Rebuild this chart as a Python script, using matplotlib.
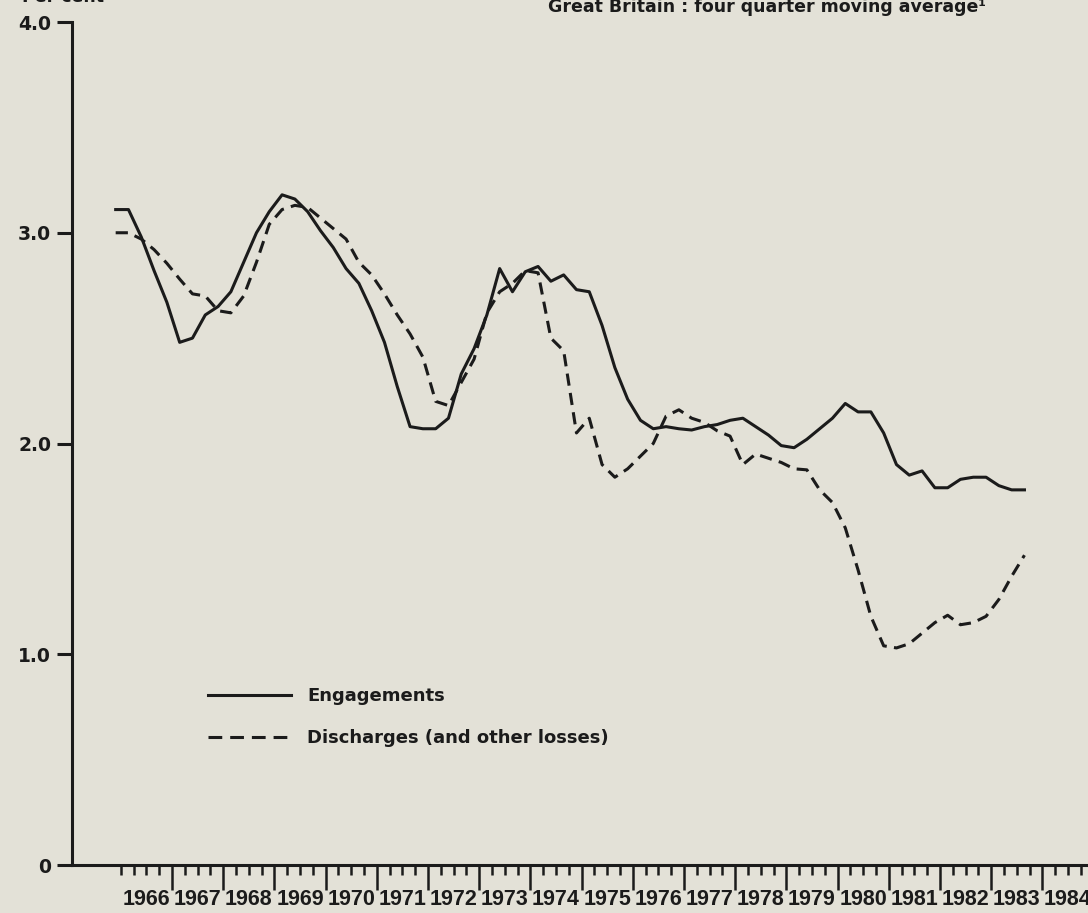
import numpy as np
import matplotlib.pyplot as plt
from matplotlib.lines import Line2D

# Quarterly points, four quarter moving average (per cent)
start_year = 1965.9
engagements = [3.11, 3.11, 2.98, 2.82, 2.67, 2.48, 2.50, 2.61, 2.65, 2.72,
               2.86, 3.00, 3.10, 3.18, 3.16, 3.10, 3.01, 2.93, 2.83, 2.76,
               2.63, 2.48, 2.27, 2.08, 2.07, 2.07, 2.12, 2.33, 2.45, 2.61,
               2.83, 2.72, 2.815, 2.84, 2.77, 2.80, 2.73, 2.72, 2.56, 2.36,
               2.21, 2.11, 2.07, 2.08, 2.07, 2.064, 2.08, 2.09, 2.11, 2.12,
               2.08, 2.04, 1.99, 1.98, 2.02, 2.07, 2.12, 2.19, 2.15, 2.15,
               2.05, 1.90, 1.85, 1.87, 1.79, 1.79, 1.83, 1.84, 1.84, 1.80,
               1.78, 1.78]
discharges = [3.00, 3.00, 2.97, 2.92, 2.855, 2.78, 2.71, 2.70, 2.63, 2.62,
              2.70, 2.86, 3.04, 3.11, 3.13, 3.12, 3.07, 3.02, 2.97, 2.86,
              2.80, 2.71, 2.61, 2.52, 2.41, 2.20, 2.18, 2.29, 2.40, 2.62,
              2.72, 2.76, 2.82, 2.81, 2.50, 2.44, 2.05, 2.12, 1.90, 1.84,
              1.88, 1.94, 2.00, 2.13, 2.16, 2.12, 2.10, 2.06, 2.035, 1.90,
              1.95, 1.93, 1.91, 1.88, 1.875, 1.78, 1.72, 1.60, 1.40, 1.18,
              1.04, 1.03, 1.05, 1.10, 1.15, 1.185, 1.14, 1.15, 1.18, 1.26,
              1.37, 1.47]
years = list(range(1966, 1985))
ytick_vals = [0, 1.0, 2.0, 3.0, 4.0]
ytick_labels = ['0', '1.0', '2.0', '3.0', '4.0']

quarters = start_year + 0.25 * np.arange(len(engagements))

paper = '#e3e1d7'
ink = '#1b1b1b'
bold_font = ['DejaVu Sans']
label_font = ['Liberation Sans', 'DejaVu Sans']

fig = plt.figure(figsize=(10.88, 9.13), dpi=100, facecolor=paper)
ax = fig.add_axes([72 / 1088, 48 / 913, 1016 / 1088, 843 / 913])
ax.set_facecolor(paper)

ax.plot(quarters, engagements, color=ink, lw=2.2, label='Engagements')
ax.plot(quarters, discharges, color=ink, lw=2.2, linestyle=(0, (4, 2.4)),
        label='Discharges (and other losses)')

ax.set_xlim(1965.047, 1984.891)
ax.set_ylim(0, 4.0)

for side in ['top', 'right']:
    ax.spines[side].set_visible(False)
for side in ['left', 'bottom']:
    ax.spines[side].set_linewidth(2.2)
    ax.spines[side].set_color(ink)

ax.set_yticks(ytick_vals)
ax.set_yticklabels(ytick_labels, fontfamily=bold_font, fontweight='bold', fontsize=13.5)
ax.tick_params(axis='y', direction='out', length=11, width=2.2, color=ink, pad=4, labelcolor=ink)

ax.set_xticks(years[1:])
ax.set_xticks(np.arange(1966, 1985, 0.25), minor=True)
ax.tick_params(axis='x', which='major', direction='out', length=18, width=1.8, color=ink, labelbottom=False)
ax.tick_params(axis='x', which='minor', direction='out', length=7, width=1.8, color=ink)

for y in years:
    ax.text(y + 0.5, -0.0415, str(y), transform=ax.get_xaxis_transform(),
            ha='center', va='center', fontsize=15.5, fontweight='bold',
            family=label_font, color=ink, clip_on=False)

handles = [Line2D([], [], color=ink, lw=2.2),
           Line2D([], [], color=ink, lw=2.2, linestyle=(0, (4.5, 2.6)))]
leg = fig.legend(handles, ['Engagements', 'Discharges (and other losses)'],
                 loc='upper left', bbox_to_anchor=(208 / 1088, 1 - 687 / 913),
                 frameon=False, borderpad=0, borderaxespad=0, handlelength=4.6,
                 handletextpad=0.9, labelspacing=1.35,
                 prop={'family': bold_font, 'weight': 'bold', 'size': 13})
for t in leg.get_texts():
    t.set_color(ink)

fig.text(548 / 1088, 1 - 12 / 913, 'Great Britain : four quarter moving average\u00b9',
         family=bold_font, fontweight='bold', fontsize=12.5, color=ink, va='baseline')
fig.text(22 / 1088, 1 - 2 / 913, 'Per cent', family=bold_font, fontweight='bold',
         fontsize=12.5, color=ink, va='baseline')

fig.savefig('out.png', dpi=100, facecolor=paper)
